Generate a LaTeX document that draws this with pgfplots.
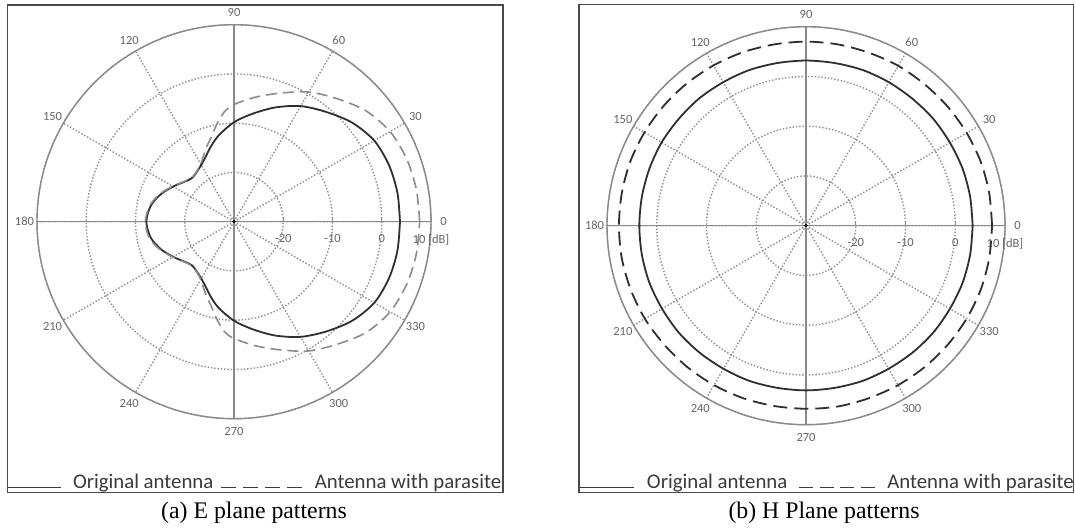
\documentclass[border=0pt]{standalone}
\usepackage{fontspec}
\setmainfont{Carlito}
\newfontfamily\capfont{Liberation Serif}
\usepackage{pgfplots}
\usepackage{pgfplotstable}
\pgfplotsset{compat=1.18}
\usepgfplotslibrary{polar}

\definecolor{gridc}{HTML}{8E8E8E}
\definecolor{axc}{HTML}{8A8A8A}
\definecolor{curveA}{HTML}{2F2F2F}
\definecolor{dashA}{HTML}{8C8C8C}
\definecolor{labc}{HTML}{666666}
\definecolor{legc}{HTML}{3A3A3A}
\definecolor{framec}{HTML}{4A4A4A}

% E plane, original antenna (angle in degrees, gain in dB)
\pgfplotstableread{
ang db
0 3.7
10 3.7
20 3.5
30 2.9
40 1.3
50 -0.9
60 -2.9
70 -5.3
80 -7.7
90 -9.8
100 -12.2
107 -14.0
114 -15.7
120 -16.7
127 -17.4
134 -17.7
141 -17.1
149 -15.9
159 -14.2
169 -12.8
180 -12.2
191 -12.8
201 -14.2
211 -15.9
219 -17.1
226 -17.7
233 -17.4
240 -16.7
246 -15.7
253 -14.0
260 -12.2
270 -9.9
280 -7.8
290 -5.4
300 -3.0
310 -0.9
320 1.3
330 2.9
340 3.5
350 3.7
360 3.7
}\Eorig

% E plane, antenna with parasite
\pgfplotstableread{
ang db
0 7.7
10 7.6
20 7.3
30 6.6
40 5.0
50 2.6
60 0.4
70 -2.2
80 -4.3
90 -6.2
95 -7.6
100 -9.9
105 -12.2
110 -13.8
115 -15.3
120 -16.5
127 -17.3
134 -17.6
141 -17.0
149 -15.8
159 -14.0
169 -12.6
180 -12.0
191 -12.5
201 -14.0
211 -15.8
219 -17.0
226 -17.6
233 -17.3
240 -16.5
245 -15.3
250 -13.8
255 -12.2
260 -9.9
265 -7.6
270 -6.3
280 -4.4
290 -2.3
300 0.3
310 2.5
320 5.0
330 6.6
340 7.3
350 7.6
360 7.7
}\Epar

% H plane, original antenna
\pgfplotstableread{
ang db
0 3.5
10 3.5
20 3.5
30 3.4
40 3.4
50 3.3
60 3.3
70 3.3
80 3.2
90 3.2
100 3.2
110 3.3
120 3.3
130 3.4
140 3.4
150 3.5
160 3.5
170 3.5
180 3.5
190 3.5
200 3.5
210 3.4
220 3.4
230 3.3
240 3.2
250 3.2
260 3.1
270 3.1
280 3.1
290 3.2
300 3.2
310 3.3
320 3.4
330 3.4
340 3.5
350 3.5
360 3.5
}\Horig

% H plane, antenna with parasite
\pgfplotstableread{
ang db
0 7.4
10 7.4
20 7.4
30 7.3
40 7.2
50 7.1
60 7.1
70 7.0
80 7.0
90 7.0
100 7.0
110 7.1
120 7.2
130 7.3
140 7.4
150 7.5
160 7.6
170 7.6
180 7.6
190 7.6
200 7.5
210 7.4
220 7.2
230 7.1
240 7.0
250 6.9
260 6.8
270 6.8
280 6.9
290 6.9
300 7.0
310 7.1
320 7.2
330 7.3
340 7.4
350 7.4
360 7.4
}\Hpar

\pgfplotsset{
  mypolar/.style={
    scale only axis,
    anchor=center,
    xmin=0, xmax=360, ymin=0, ymax=40,
    xtick={0,30,...,330},
    xticklabels={0,30,60,90,120,150,180,210,240,270,300,330},
    ytick={10,20,30,40},
    yticklabels={-20,-10,0,10 [dB]},
    grid=major,
    major grid style={gridc, line width=1.4pt, dash pattern=on 1.4pt off 1.9pt},
    extra x ticks={0,90,180,270},
    extra x tick labels={},
    extra x tick style={major grid style={axc, solid, line width=1.4pt}, major tick length=0pt},
    axis line style={axc, line width=1.4pt},
    xtick style={draw=none},
    ytick style={axc, line width=0.8pt},
    major tick length=5pt,
    tick label style={font=\fontsize{12.5}{14}\selectfont, text=labc},
    xticklabel style={anchor=center, inner sep=0pt, shift={(\tick:12.5pt)}},
    yticklabel style={anchor=north, yshift=-9pt},
    clip=false,
    legend columns=2,
    legend cell align=left,
    legend style={draw=none, fill=none, inner sep=0pt, outer sep=0pt,
      anchor=west, column sep=0pt,
      font=\fontsize{20.8}{24}\selectfont, text=legc,
      cells={anchor=base west},
      nodes={inner sep=0pt, outer sep=0pt},
      /tikz/every odd column/.append style={column sep=12pt}},
  }
}

\begin{document}
\begin{tikzpicture}[x=1pt,y=1pt]
\useasboundingbox (0,0) rectangle (1075,531);
\fill[white] (0,0) rectangle (1075,531);
\draw[framec, line width=1.2pt] (7.3,38.3) rectangle (503,526);
\draw[framec, line width=1.2pt] (579,38.3) rectangle (1073.3,526.3);

\begin{polaraxis}[mypolar, at={(234pt,309.3pt)}, width=394pt, height=394pt,
  legend style={at={(-0.0761,-0.160)},
    /tikz/every even column/.append style={column sep=7.5pt}}]
\addplot[curveA, line width=1.8pt, smooth,
  legend image code/.code={\draw[legc, line width=1pt] (0pt,1pt) -- (53pt,1pt);}]
  table[x=ang, y expr=\thisrow{db}+30] {\Eorig};
\addlegendentry{Original antenna}
\addplot[dashA, line width=1.6pt, smooth, dash pattern=on 11pt off 6pt,
  legend image code/.code={\draw[legc, line width=1pt, dash pattern=on 15pt off 7pt] (0pt,1pt) -- (81pt,1pt);}]
  table[x=ang, y expr=\thisrow{db}+30] {\Epar};
\addlegendentry{Antenna with parasite}
\addplot[only marks, mark=*, mark size=1.5pt, black, forget plot] coordinates {(0,0)};
\end{polaraxis}

\begin{polaraxis}[mypolar, at={(806pt,305.3pt)}, width=398pt, height=398pt,
  legend style={at={(-0.0704,-0.144)},
    /tikz/every even column/.append style={column sep=11pt}}]
\addplot[curveA, line width=1.8pt, smooth,
  legend image code/.code={\draw[legc, line width=1pt] (0pt,1pt) -- (55pt,1pt);}]
  table[x=ang, y expr=\thisrow{db}+30] {\Horig};
\addlegendentry{Original antenna}
\addplot[curveA, line width=1.8pt, smooth, dash pattern=on 14pt off 7pt,
  legend image code/.code={\draw[legc, line width=1pt, dash pattern=on 14pt off 6.7pt] (0pt,1pt) -- (76pt,1pt);}]
  table[x=ang, y expr=\thisrow{db}+30] {\Hpar};
\addlegendentry{Antenna with parasite}
\addplot[only marks, mark=*, mark size=1.5pt, black, forget plot] coordinates {(0,0)};
\end{polaraxis}

\node[anchor=base, font=\capfont\fontsize{23.8}{28}\selectfont] at (254,12.5) {(a) E plane patterns};
\node[anchor=base, font=\capfont\fontsize{23.8}{28}\selectfont] at (824,12.5) {(b) H Plane patterns};
\end{tikzpicture}
\end{document}
